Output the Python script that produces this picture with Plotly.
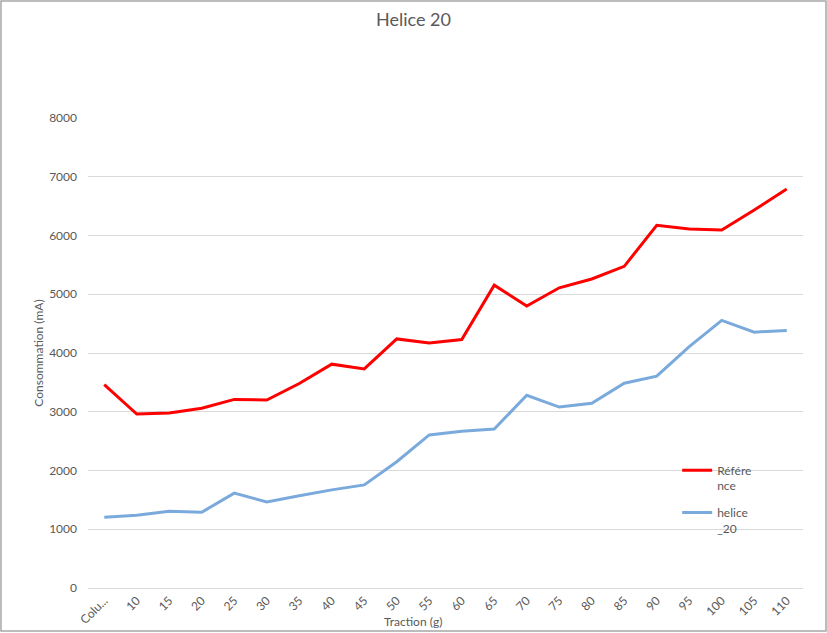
import plotly.graph_objects as go

categories = ["Colu...", "10", "15", "20", "25", "30", "35", "40", "45", "50", "55",
              "60", "65", "70", "75", "80", "85", "90", "95", "100", "105", "110"]
reference = [3460, 2960, 2980, 3060, 3210, 3200, 3480, 3810, 3730, 4240, 4170,
             4230, 5155, 4800, 5110, 5260, 5475, 6175, 6110, 6095, 6435, 6790]
helice_20 = [1205, 1240, 1305, 1290, 1615, 1465, 1570, 1670, 1755, 2150, 2605,
             2670, 2705, 3280, 3080, 3145, 3485, 3605, 4110, 4555, 4355, 4385]
series_names = ["Référe<br>nce", "helice<br>_20"]
title_text = "Helice 20"
x_title = "Traction (g)"
y_title = "Consommation (mA)"

FONT = "Lato, Open Sans, Liberation Sans, sans-serif"
GREY = "#595959"

fig = go.Figure()
fig.add_trace(go.Scatter(x=categories, y=reference, mode="lines", name=series_names[0],
                         line=dict(color="#ff0000", width=3), legendgroup="a"))
fig.add_trace(go.Scatter(x=categories, y=helice_20, mode="lines", name=series_names[1],
                         line=dict(color="#7aaadc", width=3), legendgroup="b"))

fig.update_layout(
    width=827, height=633,
    margin=dict(l=88, r=24, t=118, b=45),
    paper_bgcolor="white", plot_bgcolor="white",
    font=dict(family=FONT, size=12, color=GREY),
    title=dict(text=title_text, x=0.5, xanchor="center", y=1 - 13/633, yanchor="top",
               font=dict(size=18, color=GREY, family=FONT)),
    showlegend=True,
    legend=dict(x=0.824, y=0.281, xanchor="left", yanchor="top", bgcolor="rgba(0,0,0,0)",
                font=dict(size=12, color=GREY, family=FONT), itemwidth=30,
                valign="top", tracegroupgap=8, traceorder="grouped"),
    xaxis=dict(type="category", tickangle=-45, showgrid=False, showline=True,
               linecolor="#d9d9d9", linewidth=1, ticks="", automargin=False,
               tickfont=dict(size=12, color=GREY),
               range=[-0.5, len(categories) - 0.5]),
    yaxis=dict(range=[0, 8000], dtick=1000, showgrid=True, gridcolor="#d9d9d9", gridwidth=1,
               zeroline=False, showline=False, ticks="", ticklabelstandoff=10,
               automargin=False, tickfont=dict(size=12, color=GREY),
               title=dict(text=y_title, font=dict(size=12, color=GREY), standoff=2)),
    annotations=[dict(text=x_title, xref="paper", yref="paper", x=0.4545, y=-33/470,
                      xanchor="center", yanchor="middle", showarrow=False,
                      font=dict(size=12, color=GREY, family=FONT))],
    shapes=[dict(type="rect", xref="paper", yref="paper",
                 x0=-87/715, x1=(827-88-1)/715, y0=-43/470, y1=(470+117)/470,
                 line=dict(color="#a6a6a6", width=1.5), fillcolor="rgba(0,0,0,0)")],
)

fig.write_html("out.html", config={"displayModeBar": False},
               post_script="document.body.style.margin='0';document.body.style.padding='0';")
